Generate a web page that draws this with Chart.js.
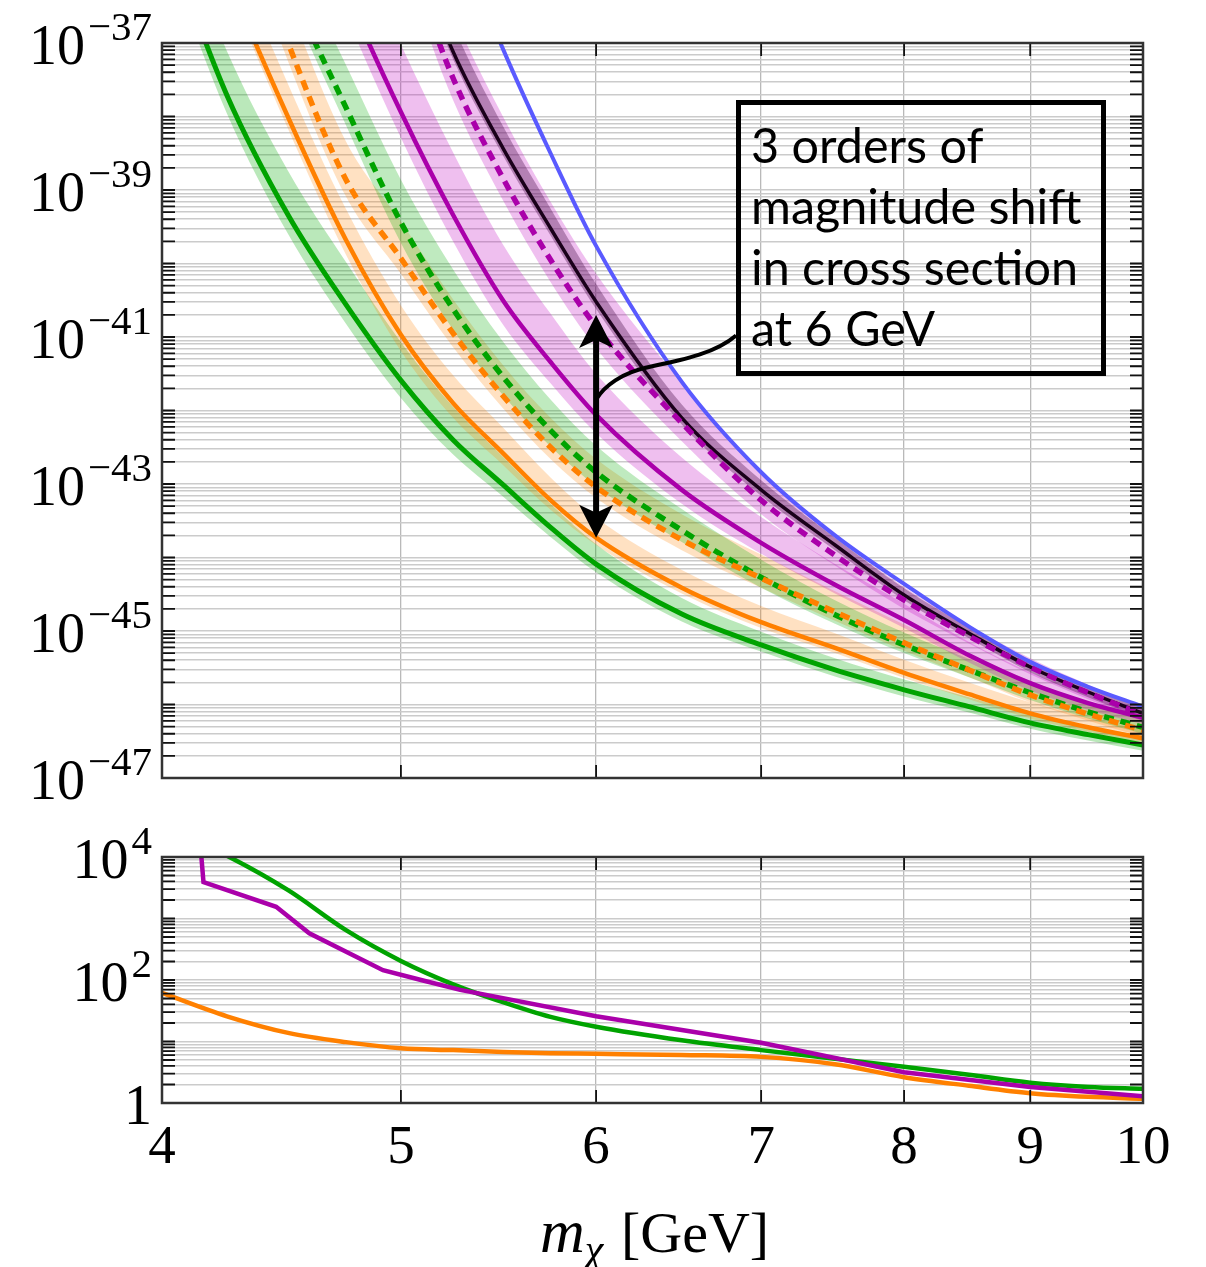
<!DOCTYPE html>
<html>
<head>
<meta charset="utf-8">
<title>cross section vs mass</title>
<script src="https://cdn.jsdelivr.net/npm/chart.js@4.4.1/dist/chart.umd.min.js"></script>
<style>
  body { margin: 0; background: #fff; }
  #wrap { position: relative; width: 1206px; height: 1267px; }
  canvas { position: absolute; left: 0; }
  #cTop { top: 0; }
  #cBot { top: 800px; }
</style>
</head>
<body>
<div id="wrap">
  <canvas id="cTop" width="1206" height="800"></canvas>
  <canvas id="cBot" width="1206" height="467"></canvas>
</div>
<script>
// dark matter mass [GeV]
const mass = [4, 4.25, 4.5, 4.75, 5, 5.25, 5.5, 5.75, 6, 6.5, 7, 7.5, 8, 8.5, 9, 9.5, 10];

// upper panel, log10 of the cross section
const greenSolid   = [-35.4, -37.71, -39.34, -40.56, -41.59, -42.40, -43.01, -43.59, -44.09, -44.77, -45.19, -45.53, -45.80, -46.03, -46.25, -46.41, -46.55];
const orangeSolid  = [-33.7, -36.07, -38.01, -39.68, -40.97, -41.90, -42.58, -43.22, -43.73, -44.41, -44.88, -45.23, -45.57, -45.86, -46.12, -46.31, -46.46];
const orangeDashed = [-32.3, -34.67, -37.0, -38.86, -39.93, -40.95, -41.80, -42.50, -43.04, -43.76, -44.28, -44.74, -45.16, -45.53, -45.87, -46.13, -46.35];
const greenDashed  = [-31.8, -34.0, -36.17, -37.88, -39.44, -40.62, -41.54, -42.27, -42.84, -43.63, -44.27, -44.78, -45.19, -45.53, -45.84, -46.10, -46.31];
const magentaSolid = [-30.5, -32.4, -34.3, -36.29, -37.94, -39.34, -40.50, -41.34, -42.06, -43.08, -43.80, -44.37, -44.85, -45.33, -45.71, -45.98, -46.18];
const magentaDashed= [-29.6, -31.0, -32.5, -34.0, -35.6, -37.48, -38.84, -39.95, -40.86, -42.17, -43.22, -43.97, -44.58, -45.07, -45.49, -45.84, -46.14];
const blackLine    = [-29.3, -30.8, -32.2, -33.7, -35.3, -37.12, -38.43, -39.52, -40.52, -42.10, -43.08, -43.83, -44.51, -45.03, -45.49, -45.83, -46.12];
const blueLine     = [-27.5, -28.8, -30.3, -31.8, -33.5, -35.4, -37.08, -38.50, -39.76, -41.61, -42.84, -43.70, -44.36, -44.94, -45.42, -45.76, -46.03];

// band edges, decades above (Up) / below (Dn) each curve
const greenSolidUp   = [0.6, 0.6, 0.6, 0.58, 0.52, 0.45, 0.38, 0.32, 0.27, 0.22, 0.18, 0.16, 0.14, 0.13, 0.12, 0.12, 0.12];
const greenSolidDn   = [0.25, 0.25, 0.26, 0.26, 0.24, 0.2, 0.16, 0.13, 0.11, 0.1, 0.09, 0.09, 0.09, 0.08, 0.08, 0.08, 0.08];
const orangeSolidUp  = [0.5, 0.5, 0.45, 0.42, 0.4, 0.38, 0.35, 0.31, 0.27, 0.24, 0.22, 0.2, 0.18, 0.16, 0.15, 0.13, 0.12];
const orangeSolidDn  = [0.12, 0.12, 0.16, 0.2, 0.22, 0.2, 0.16, 0.13, 0.1, 0.08, 0.08, 0.07, 0.07, 0.07, 0.07, 0.06, 0.06];
const orangeDashedUp = [0.55, 0.55, 0.55, 0.52, 0.5, 0.46, 0.42, 0.4, 0.38, 0.35, 0.32, 0.28, 0.25, 0.22, 0.19, 0.17, 0.15];
const orangeDashedDn = [0.25, 0.25, 0.25, 0.23, 0.21, 0.19, 0.17, 0.16, 0.15, 0.14, 0.13, 0.12, 0.11, 0.1, 0.1, 0.09, 0.09];
const greenDashedUp  = [0.55, 0.55, 0.55, 0.58, 0.58, 0.54, 0.48, 0.42, 0.36, 0.29, 0.24, 0.2, 0.17, 0.15, 0.13, 0.12, 0.11];
const greenDashedDn  = [0.15, 0.15, 0.18, 0.24, 0.28, 0.28, 0.25, 0.22, 0.19, 0.16, 0.14, 0.12, 0.11, 0.1, 0.1, 0.09, 0.09];
const magentaSolidUp = [0.95, 0.95, 0.95, 0.95, 0.92, 0.85, 0.76, 0.66, 0.56, 0.44, 0.35, 0.28, 0.22, 0.18, 0.15, 0.13, 0.12];
const magentaSolidDn = [0.3, 0.3, 0.3, 0.32, 0.35, 0.36, 0.33, 0.29, 0.25, 0.19, 0.15, 0.12, 0.11, 0.1, 0.1, 0.09, 0.09];
const magentaDashedUp= [0.9, 0.9, 0.9, 0.9, 0.9, 0.88, 0.84, 0.79, 0.72, 0.55, 0.38, 0.25, 0.18, 0.14, 0.12, 0.11, 0.1];
const magentaDashedDn= [0.3, 0.3, 0.3, 0.3, 0.3, 0.3, 0.3, 0.3, 0.29, 0.25, 0.19, 0.14, 0.12, 0.1, 0.1, 0.09, 0.09];
const blackUp        = [0.4, 0.4, 0.4, 0.4, 0.4, 0.36, 0.3, 0.27, 0.24, 0.18, 0.13, 0.1, 0.09, 0.08, 0.08, 0.08, 0.08];
const blackDn        = [0.1, 0.1, 0.1, 0.1, 0.1, 0.1, 0.1, 0.1, 0.1, 0.09, 0.08, 0.07, 0.07, 0.07, 0.07, 0.07, 0.07];

// lower panel, log10 of the ratio
const greenRatio  = [4.5, 4.02, 3.46, 2.81, 2.31, 1.93, 1.64, 1.40, 1.24, 1.02, 0.86, 0.72, 0.59, 0.46, 0.33, 0.26, 0.23];
const orangeRatio = [1.79, 1.41, 1.14, 0.99, 0.89, 0.86, 0.83, 0.81, 0.80, 0.78, 0.75, 0.63, 0.42, 0.28, 0.16, 0.10, 0.07];
const magentaRatioMass = [4.14, 4.158, 4.45, 4.59, 4.917, 5.095, 5.285, 6, 7, 8, 9, 10];
const magentaRatio     = [4.5, 3.59, 3.19, 2.76, 2.16, 2.0, 1.84, 1.41, 0.98, 0.50, 0.26, 0.11];

// axes
const xTicks = [4, 5, 6, 7, 8, 9, 10];
const topLabelExp = [-37, -39, -41, -43, -45, -47];
const botLabelExp = [4, 2, 0];
const noteLines = ['3 orders of', 'magnitude shift', 'in cross section', 'at 6 GeV'];
const arrowMass = 6, arrowTop = -40.7, arrowBottom = -43.73, arrowJoint = -41.85;

const GREEN = '#00a300', ORANGE = '#ff8000', MAGENTA = '#aa00aa', BLUE = '#5a5aff', BLACK = '#1a001a';
const SERIF = '"Liberation Serif", "DejaVu Serif", serif';

function decades(lo, hi) {
    let out = [];
    for (let e = lo; e < hi; e++) {
        for (let k = 1; k < 10; k++) out.push(k * Math.pow(10, e));
    }
    out.push(Math.pow(10, hi));
    return out;
}
const topTicks = decades(-47, -37);
const botTicks = decades(0, 4);

function pts(xs, logs, off, sign) {
    return xs.map((x, i) => ({ x: x, y: Math.pow(10, logs[i] + (off ? sign * off[i] : 0)) }));
}

function line(logs, color, width, dash, xs, mode) {
    return {
        data: pts(xs || mass, logs),
        borderColor: color, borderWidth: width, borderDash: dash || [],
        borderCapStyle: 'butt', fill: false, pointRadius: 0,
        cubicInterpolationMode: mode || 'monotone', tension: mode === 'linear' ? 0 : 0.4
    };
}

function band(logs, up, dn, color) {
    return [{
        data: pts(mass, logs, up, 1), borderWidth: 0, borderColor: 'transparent',
        pointRadius: 0, fill: '+1', backgroundColor: color, cubicInterpolationMode: 'monotone'
    }, {
        data: pts(mass, logs, dn, -1), borderWidth: 0, borderColor: 'transparent',
        pointRadius: 0, fill: false, cubicInterpolationMode: 'monotone'
    }];
}

function baseOptions(pad, yMin, yMax, yTicks) {
    return {
        responsive: false, animation: false, events: [],
        layout: { padding: pad },
        elements: { line: { capBezierPoints: false } },
        plugins: {
            legend: { display: false }, tooltip: { enabled: false },
            filler: { drawTime: 'beforeDatasetsDraw' }
        },
        scales: {
            x: {
                type: 'logarithmic', min: 4, max: 10,
                afterBuildTicks: s => { s.ticks = xTicks.map(v => ({ value: v })); },
                afterFit: s => { s.height = 0; },
                ticks: { display: false }, border: { display: false },
                grid: { color: '#b9b9b9', lineWidth: 1.3, drawTicks: false }
            },
            y: {
                type: 'logarithmic', min: yMin, max: yMax,
                afterBuildTicks: s => { s.ticks = yTicks.map(v => ({ value: v })); },
                afterFit: s => { s.width = 0; },
                ticks: { display: false }, border: { display: false },
                grid: { color: '#cbcbcb', lineWidth: 1.6, drawTicks: false }
            }
        }
    };
}

// frame + inward ticks on all four sides
function drawFrame(chart, yTicks) {
    const { ctx, chartArea: a, scales } = chart;
    ctx.save();
    ctx.strokeStyle = '#111';
    ctx.lineWidth = 1.8;
    ctx.beginPath();
    yTicks.forEach(v => {
        const y = scales.y.getPixelForValue(v);
        ctx.moveTo(a.left, y); ctx.lineTo(a.left + 13, y);
        ctx.moveTo(a.right, y); ctx.lineTo(a.right - 13, y);
    });
    xTicks.slice(1, -1).forEach(v => {
        const x = scales.x.getPixelForValue(v);
        ctx.moveTo(x, a.top); ctx.lineTo(x, a.top + 13);
        ctx.moveTo(x, a.bottom); ctx.lineTo(x, a.bottom - 13);
    });
    ctx.stroke();
    ctx.strokeStyle = '#333';
    ctx.lineWidth = 2.5;
    ctx.strokeRect(a.left, a.top, a.right - a.left, a.bottom - a.top);
    ctx.restore();
}

// "10^n" labels on the left
function drawExpLabels(chart, exps) {
    const ctx = chart.ctx, sy = chart.scales.y;
    ctx.save();
    ctx.fillStyle = '#000';
    ctx.textAlign = 'left';
    ctx.textBaseline = 'alphabetic';
    exps.forEach(e => {
        const y = sy.getPixelForValue(Math.pow(10, e));
        const base = e === 0 ? '1' : '10';
        const sup = e === 0 ? '' : (e < 0 ? '\u2212' : '') + Math.abs(e);
        ctx.font = '41px ' + SERIF;
        const ws = ctx.measureText(sup).width;
        ctx.font = '56px ' + SERIF;
        const wb = ctx.measureText(base).width;
        const right = 152;
        ctx.fillText(base, right - ws - wb - (sup ? 3 : 0), y + 21);
        if (sup) {
            ctx.font = '41px ' + SERIF;
            ctx.fillText(sup, right - ws, y - 3);
        }
    });
    ctx.restore();
}

function drawArrow(chart) {
    const { ctx, scales } = chart;
    const x = scales.x.getPixelForValue(arrowMass);
    const y1 = scales.y.getPixelForValue(Math.pow(10, arrowTop));
    const y2 = scales.y.getPixelForValue(Math.pow(10, arrowBottom));
    const yj = scales.y.getPixelForValue(Math.pow(10, arrowJoint));
    ctx.save();
    ctx.strokeStyle = '#000';
    ctx.fillStyle = '#000';
    // connector to the note box
    ctx.lineWidth = 4;
    ctx.beginPath();
    ctx.moveTo(x, yj);
    ctx.bezierCurveTo(x + 8, yj - 13, x + 25, yj - 27, x + 55, yj - 33);
    ctx.bezierCurveTo(x + 90, yj - 40, x + 120, yj - 47, x + 140, yj - 64);
    ctx.stroke();
    // shaft
    ctx.lineWidth = 6;
    ctx.beginPath();
    ctx.moveTo(x, y1 + 20);
    ctx.lineTo(x, y2 - 20);
    ctx.stroke();
    // heads
    ctx.beginPath();
    ctx.moveTo(x, y1);
    ctx.lineTo(x + 17, y1 + 33);
    ctx.lineTo(x, y1 + 25);
    ctx.lineTo(x - 17, y1 + 33);
    ctx.closePath();
    ctx.moveTo(x, y2);
    ctx.lineTo(x + 17, y2 - 33);
    ctx.lineTo(x, y2 - 25);
    ctx.lineTo(x - 17, y2 - 33);
    ctx.closePath();
    ctx.fill();
    ctx.restore();
}

function drawNote(chart) {
    const ctx = chart.ctx;
    ctx.save();
    ctx.strokeStyle = '#000';
    ctx.lineWidth = 5;
    ctx.strokeRect(738.5, 102.5, 365, 271);
    ctx.fillStyle = '#000';
    ctx.font = '48.5px Lato, "Open Sans", sans-serif';
    ctx.textBaseline = 'alphabetic';
    noteLines.forEach((t, i) => ctx.fillText(t, 751, 163 + i * 61));
    ctx.restore();
}

const topDecor = {
    id: 'topDecor',
    afterDatasetsDraw(chart) { drawArrow(chart); },
    afterDraw(chart) {
        drawFrame(chart, topTicks);
        drawExpLabels(chart, topLabelExp);
        drawNote(chart);
    }
};

const botDecor = {
    id: 'botDecor',
    afterDraw(chart) {
        drawFrame(chart, botTicks);
        drawExpLabels(chart, botLabelExp);
        const { ctx, chartArea: a, scales } = chart;
        ctx.save();
        ctx.fillStyle = '#000';
        ctx.textAlign = 'center';
        ctx.font = '55px ' + SERIF;
        xTicks.forEach(v => ctx.fillText(String(v), scales.x.getPixelForValue(v), a.bottom + 60));
        // axis title: m_chi [GeV]
        ctx.textAlign = 'left';
        ctx.font = 'italic 62px ' + SERIF;
        ctx.fillText('m', 540, a.bottom + 149);
        const wm = ctx.measureText('m').width;
        ctx.font = 'italic 42px ' + SERIF;
        ctx.fillText('\u03c7', 540 + wm, a.bottom + 160);
        ctx.font = '58px ' + SERIF;
        ctx.fillText('[GeV]', 621, a.bottom + 149);
        ctx.restore();
    }
};

// upper panel
new Chart(document.getElementById('cTop'), {
    type: 'line',
    data: {
        datasets: [
            line(blueLine, BLUE, 4),
            line(magentaDashed, MAGENTA, 5.5, [10, 7]),
            line(blackLine, BLACK, 3.5),
            line(magentaSolid, MAGENTA, 4.5),
            line(orangeDashed, ORANGE, 5.5, [10, 7]),
            line(greenDashed, GREEN, 5.5, [10, 7]),
            line(orangeSolid, ORANGE, 4.5),
            line(greenSolid, GREEN, 5),
            ...band(blackLine, blackUp, blackDn, 'rgba(60,0,60,0.33)'),
            ...band(magentaDashed, magentaDashedUp, magentaDashedDn, 'rgba(190,0,190,0.25)'),
            ...band(magentaSolid, magentaSolidUp, magentaSolidDn, 'rgba(190,0,190,0.25)'),
            ...band(greenDashed, greenDashedUp, greenDashedDn, 'rgba(0,170,0,0.25)'),
            ...band(orangeDashed, orangeDashedUp, orangeDashedDn, 'rgba(255,128,0,0.24)'),
            ...band(orangeSolid, orangeSolidUp, orangeSolidDn, 'rgba(255,128,0,0.24)'),
            ...band(greenSolid, greenSolidUp, greenSolidDn, 'rgba(0,170,0,0.27)')
        ]
    },
    options: baseOptions({ left: 162, right: 63, top: 43, bottom: 22 }, 1e-47, 1e-37, topTicks),
    plugins: [topDecor]
});

// lower panel
new Chart(document.getElementById('cBot'), {
    type: 'line',
    data: {
        datasets: [
            line(magentaRatio, MAGENTA, 4.5, null, magentaRatioMass, 'linear'),
            line(greenRatio, GREEN, 4.5),
            line(orangeRatio, ORANGE, 4.5)
        ]
    },
    options: baseOptions({ left: 162, right: 63, top: 57, bottom: 164 }, 1, 1e4, botTicks),
    plugins: [botDecor]
});
</script>
</body>
</html>
